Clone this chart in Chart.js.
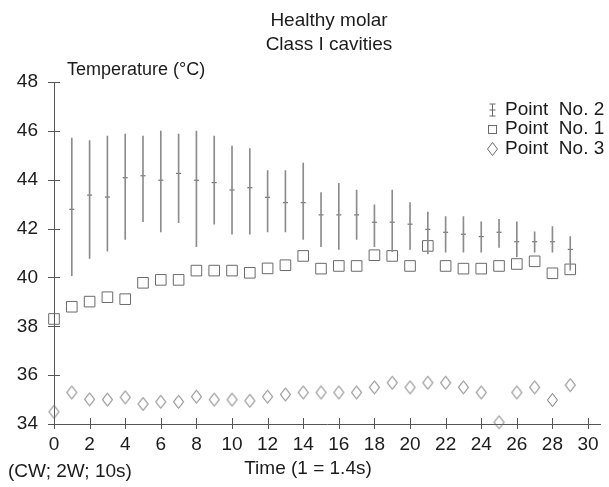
<!DOCTYPE html>
<html>
<head>
<meta charset="utf-8">
<script src="https://cdn.jsdelivr.net/npm/chart.js@4.4.1/dist/chart.umd.min.js"></script>
<style>
html, body { margin: 0; background: #fff; }
#wrap { position: relative; width: 609px; height: 487px; }
</style>
</head>
<body>
<div id="wrap"><canvas id="c"></canvas></div>
<script>
// values
const time = [0,1,2,3,4,5,6,7,8,9,10,11,12,13,14,15,16,17,18,19,20,21,22,23,24,25,26,27,28,29];
const point1 = [38.30,38.80,39.01,39.19,39.11,39.78,39.90,39.90,40.28,40.28,40.28,40.19,40.37,40.50,40.88,
  40.36,40.47,40.47,40.91,40.88,40.47,41.29,40.47,40.36,40.36,40.47,40.55,40.66,40.17,40.33];
const point2Mean = [null,42.79,43.37,43.29,44.08,44.16,43.98,44.26,43.98,43.88,43.58,43.67,43.28,43.06,43.06,
  42.56,42.56,42.56,42.26,42.26,42.18,41.97,41.85,41.77,41.67,41.85,41.46,41.46,41.46,41.15];
const point2Low = [null,40.07,40.78,41.08,41.56,42.28,41.86,42.24,41.26,42.18,41.77,41.77,41.86,41.86,41.56,
  41.26,41.15,41.56,41.26,41.05,41.15,40.96,41.03,41.03,41.03,41.23,40.85,41.03,41.03,40.30];
const point2High = [null,45.70,45.60,45.79,45.87,45.79,45.99,45.87,45.99,45.79,45.38,45.27,44.37,44.37,44.68,
  43.47,43.85,43.58,42.97,43.58,43.06,42.68,42.49,42.49,42.28,42.38,42.28,41.87,42.08,41.67];
const point3 = [34.50,35.29,35.01,35.00,35.09,34.82,34.91,34.91,35.12,35.00,35.00,34.95,35.12,35.21,35.29,
  35.29,35.29,35.29,35.50,35.69,35.50,35.69,35.69,35.50,35.29,34.07,35.29,35.50,34.98,35.59];
const xTickValues = [0,2,4,6,8,10,12,14,16,18,20,22,24,26,28,30];
const yTickValues = [34,36,38,40,42,44,46,48];

const ink = '#1c1c1c';
const mark = '#6a6a6a';
const font = '"Liberation Sans", Arial, sans-serif';

// diamond is a bit taller than wide in the scan
const diamond = document.createElement('canvas');
diamond.width = 13; diamond.height = 16;
(g => {
  g.strokeStyle = mark; g.lineWidth = 1;
  g.beginPath();
  g.moveTo(6.5, 1.5); g.lineTo(11.5, 8); g.lineTo(6.5, 14.5); g.lineTo(1.5, 8); g.closePath();
  g.stroke();
})(diamond.getContext('2d'));

const decor = {
  id: 'decor',
  afterDraw(chart) {
    const { ctx, chartArea: a, scales: { x, y } } = chart;
    const line = (x1, y1, x2, y2) => { ctx.beginPath(); ctx.moveTo(x1, y1); ctx.lineTo(x2, y2); ctx.stroke(); };
    ctx.save();
    ctx.strokeStyle = '#555';
    ctx.lineWidth = 1;
    y.ticks.forEach(t => { const py = Math.round(y.getPixelForValue(t.value)) + 0.5; line(a.left - 6, py, a.left + 6, py); });
    x.ticks.forEach(t => { const px = Math.round(x.getPixelForValue(t.value)) + 0.5; line(px, a.bottom - 6, px, a.bottom + 5); });

    ctx.fillStyle = ink;
    ctx.textBaseline = 'middle';
    ctx.font = '19px ' + font;
    ctx.textAlign = 'center';
    ctx.fillText('Healthy molar', 329, 21);
    ctx.fillText('Class I cavities', 329, 45);
    ctx.fillText('Time (1 = 1.4s)', 308, 469);
    ctx.textAlign = 'left';
    ctx.fillText('(CW; 2W; 10s)', 8, 472);
    ctx.font = '18px ' + font;
    ctx.fillText('Temperature (°C)', 67, 70);

    // legend
    ctx.font = '19px ' + font;
    const rows = [['Point  No. 2', 110], ['Point  No. 1', 129], ['Point  No. 3', 149]];
    rows.forEach(([txt, ry]) => ctx.fillText(txt, 505, ry));
    ctx.strokeStyle = mark;
    let cx = 492.5, cy = 110;
    line(cx, cy - 6, cx, cy + 6); line(cx - 3, cy - 6, cx + 3, cy - 6); line(cx - 3, cy + 6, cx + 3, cy + 6); line(cx - 3, cy, cx + 3, cy);
    ctx.strokeRect(488.5, 125.5, 8, 8);
    ctx.drawImage(diamond, 486, 141);
    ctx.restore();
  }
};

new Chart(document.getElementById('c'), {
  type: 'scatter',
  data: {
    datasets: [
      {
        type: 'bar', label: 'Point No. 2 range',
        data: time.map((t, i) => point2Low[i] == null ? null : { x: t, y: [point2Low[i], point2High[i]] }).filter(d => d),
        backgroundColor: '#8c8c8c', borderWidth: 0, barThickness: 1
      },
      {
        label: 'Point No. 2',
        data: time.map((t, i) => ({ x: t, y: point2Mean[i] })).filter(d => d.y != null),
        pointStyle: 'line', pointRadius: 2.5, borderColor: '#555', borderWidth: 1, clip: false
      },
      {
        label: 'Point No. 1',
        data: time.map((t, i) => ({ x: t, y: point1[i] })),
        pointStyle: 'rect', pointRadius: 7.5, borderColor: mark, backgroundColor: 'rgba(0,0,0,0)', borderWidth: 1, clip: false
      },
      {
        label: 'Point No. 3',
        data: time.map((t, i) => ({ x: t, y: point3[i] })),
        pointStyle: diamond, clip: false
      }
    ]
  },
  options: {
    responsive: true,
    maintainAspectRatio: false,
    animation: false,
    events: [],
    layout: { padding: { top: 82, right: 4.5, left: 0, bottom: 0 } },
    plugins: { legend: { display: false }, tooltip: { enabled: false }, title: { display: false } },
    scales: {
      x: {
        type: 'linear', min: 0, max: 30.7, offset: false,
        afterFit: s => { s.height = 63; },
        afterBuildTicks: s => { s.ticks = xTickValues.map(v => ({ value: v })); },
        ticks: { padding: 1, color: ink, font: { family: font, size: 19 }, maxRotation: 0, autoSkip: false },
        grid: { display: false },
        border: { display: true, color: '#555', width: 1 }
      },
      y: {
        min: 34, max: 48,
        afterFit: s => { s.width = 54; },
        afterBuildTicks: s => { s.ticks = yTickValues.map(v => ({ value: v })); },
        ticks: { padding: 8, color: ink, font: { family: font, size: 19 } },
        grid: { display: false },
        border: { display: true, color: '#555', width: 1 }
      }
    }
  },
  plugins: [decor]
});
</script>
</body>
</html>
